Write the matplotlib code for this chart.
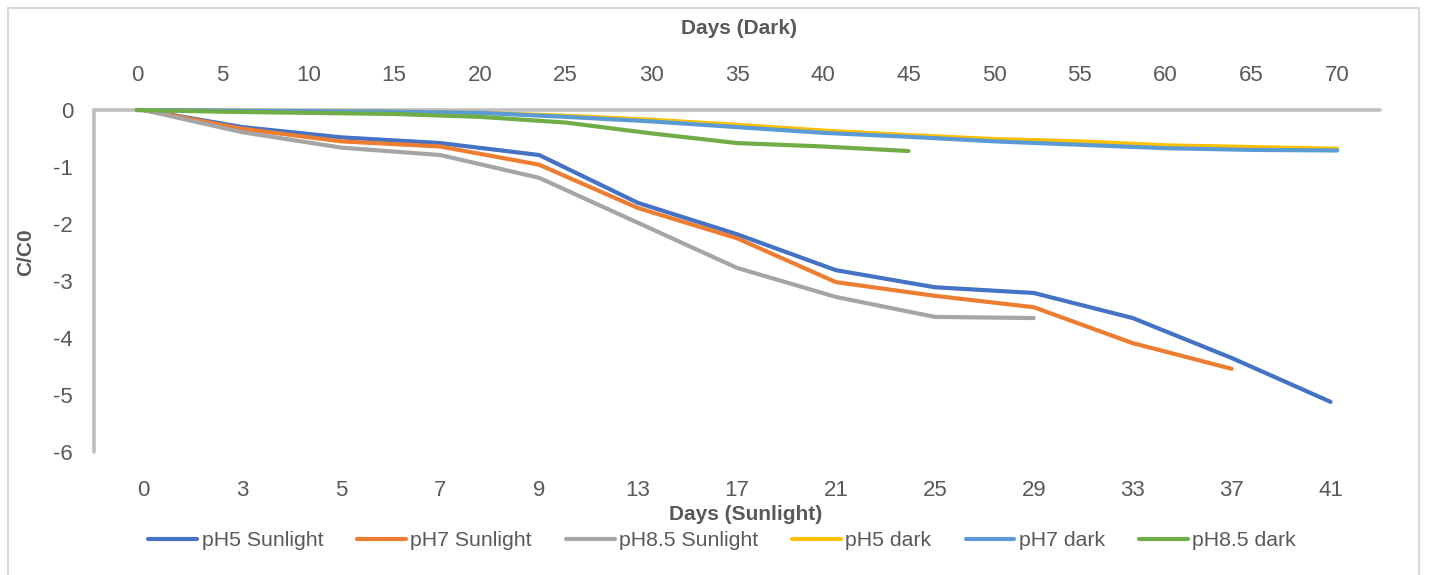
import matplotlib
matplotlib.use("Agg")
import matplotlib.pyplot as plt
from matplotlib.patches import Rectangle
import numpy as np

plt.rcParams['font.family'] = ['Liberation Sans Narrow', 'Liberation Sans', 'DejaVu Sans']

# ---- data ----
sun_days = ['0', '3', '5', '7', '9', '13', '17', '21', '25', '29', '33', '37', '41']
dark_days = ['0', '5', '10', '15', '20', '25', '30', '35', '40', '45', '50', '55', '60', '65', '70']

ph5_sun = [0, -0.30, -0.48, -0.58, -0.79, -1.63, -2.18, -2.81, -3.11, -3.21, -3.65, -4.35, -5.12]
ph7_sun = [0, -0.33, -0.55, -0.64, -0.96, -1.72, -2.25, -3.02, -3.26, -3.46, -4.09, -4.54]
ph85_sun = [0, -0.39, -0.66, -0.79, -1.19, -1.98, -2.77, -3.28, -3.63, -3.65]

ph5_dark = [0, -0.01, -0.02, -0.03, -0.05, -0.10, -0.17, -0.26, -0.36, -0.44, -0.51, -0.55, -0.62, -0.65, -0.68]
ph7_dark = [0, -0.01, -0.02, -0.03, -0.05, -0.12, -0.20, -0.30, -0.40, -0.47, -0.55, -0.61, -0.67, -0.70, -0.71]
ph85_dark = [0, -0.03, -0.05, -0.07, -0.12, -0.22, -0.41, -0.58, -0.64, -0.72]

sun_series = [("pH5 Sunlight", ph5_sun, "#4472C4"),
              ("pH7 Sunlight", ph7_sun, "#ED7D31"),
              ("pH8.5 Sunlight", ph85_sun, "#A5A5A5")]
dark_series = [("pH5 dark", ph5_dark, "#FFC000"),
               ("pH7 dark", ph7_dark, "#5B9BD5"),
               ("pH8.5 dark", ph85_dark, "#70AD47")]

W, H = 1432, 575
fig = plt.figure(figsize=(W / 100, H / 100), dpi=100)

# outer chart border
fig.patches.append(Rectangle((8 / W, -0.05), (1419 - 8) / W, 1.05 - 8 / H,
                             transform=fig.transFigure, fill=False,
                             edgecolor="#D9D9D9", linewidth=1.5))

L, R, T, B = 94, 1380, 110, 452
ax = fig.add_axes([L / W, 1 - B / H, (R - L) / W, (B - T) / H])
ax2 = ax.twiny()

txt = "#595959"
grey = "#BFBFBF"
lw = 3.0
fs = 16
fs_leg = 15.3
fs_title = 15

handles = []
for name, vals, col in sun_series:
    ln, = ax.plot(np.arange(len(vals)), vals, color=col, lw=lw, label=name,
                  solid_capstyle='round', solid_joinstyle='round', clip_on=False)
    handles.append(ln)
for name, vals, col in dark_series:
    ln, = ax2.plot(np.arange(len(vals)), vals, color=col, lw=lw, label=name,
                   solid_capstyle='round', solid_joinstyle='round', clip_on=False)
    handles.append(ln)

ax.set_ylim(-6, 0)
ax.set_yticks(np.arange(-6, 1, 1))
ax.set_yticklabels([str(v) for v in range(-6, 1)])
ax.set_xlim(-0.5, len(sun_days) - 0.5)
ax.set_xticks(np.arange(len(sun_days)))
ax.set_xticklabels(sun_days)
ax2.set_xlim(-0.5, len(dark_days) - 0.5)
ax2.set_xticks(np.arange(len(dark_days)))
ax2.set_xticklabels(dark_days)

for a in (ax, ax2):
    for s in a.spines.values():
        s.set_visible(False)
ax.spines['left'].set_visible(True)
ax.spines['left'].set_color(grey)
ax.spines['left'].set_linewidth(2.6)
ax.spines['left'].set_capstyle('round')
ax2.spines['top'].set_visible(True)
ax2.spines['top'].set_color(grey)
ax2.spines['top'].set_linewidth(2.6)
ax2.spines['top'].set_capstyle('round')
ax2.spines['top'].set_zorder(0.5)

ax.tick_params(axis='y', length=0, pad=15, labelsize=fs, labelcolor=txt)
ax.tick_params(axis='x', length=0, pad=20, labelsize=fs, labelcolor=txt)
ax2.tick_params(axis='x', length=0, pad=17, labelsize=fs, labelcolor=txt)
ax.patch.set_visible(False)

fig.text(739 / W, 1 - 28 / H, "Days (Dark)", ha='center', va='center',
         fontsize=fs_title, fontweight='bold', color=txt)
fig.text(746 / W, 1 - 514 / H, "Days (Sunlight)", ha='center', va='center',
         fontsize=fs_title, fontweight='bold', color=txt)
fig.text(26 / W, 1 - 252 / H, "C/C0", ha='center', va='center', rotation=90,
         fontsize=fs_title, fontweight='bold', color=txt)

fig.legend(handles=handles, labels=[h.get_label() for h in handles],
           loc='center', bbox_to_anchor=(722 / W, 1 - 541 / H), ncol=6,
           frameon=False, fontsize=fs_leg, handlelength=2.3, handletextpad=0.2,
           columnspacing=1.6, labelcolor=txt, borderaxespad=0, borderpad=0)

fig.savefig("out.png", dpi=100)
